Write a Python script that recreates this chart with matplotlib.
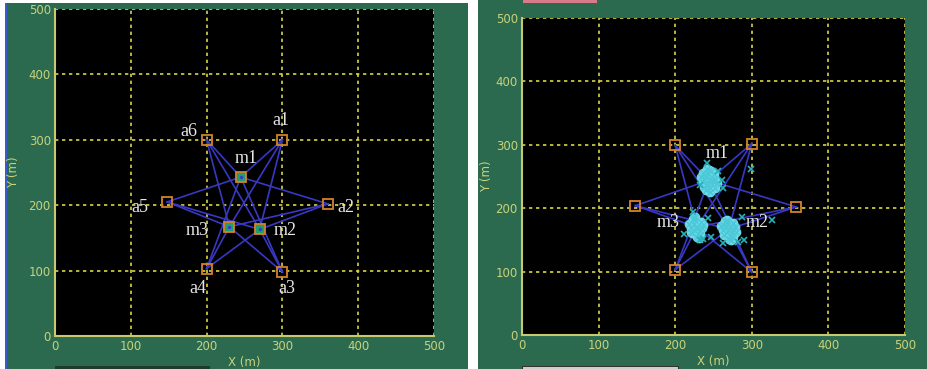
import matplotlib.pyplot as plt
from matplotlib.patches import Rectangle

# anchor and mobile node positions (m)
anchor_x = [300, 360, 300, 200, 148, 200]
anchor_y = [300, 202, 98, 103, 205, 300]
anchor_names = ['a1', 'a2', 'a3', 'a4', 'a5', 'a6']

mobile_x = [245, 270, 230]
mobile_y = [243, 163, 167]
mobile_names = ['m1', 'm2', 'm3']

# label anchor points for the left plot
anchor_lbl_x = [298, 384, 306, 189, 112, 177]
anchor_lbl_y = [330, 196, 72, 72, 196, 313]
mobile_lbl_x = [252, 303, 187]
mobile_lbl_y = [272, 162, 162]

# second run: anchors slightly moved, estimates scattered around nodes
anchor2_x = [300, 358, 300, 200, 148, 200]
anchor2_y = [302, 202, 99, 103, 204, 299]
mobile2_x = [244, 270, 228]
mobile2_y = [244, 167, 170]
mobile2_lbl_x = [255, 307, 191]
mobile2_lbl_y = [287, 177, 177]

# location estimates (dense part)
est_m1_x = [244, 240, 248, 236, 252, 242, 246, 238, 250, 234, 254, 244, 240, 248, 242,
            236, 252, 246, 238, 250, 243, 247, 239, 245, 241, 249]
est_m1_y = [244, 250, 238, 242, 246, 256, 232, 234, 254, 250, 240, 260, 228, 250, 238,
            256, 232, 246, 246, 242, 236, 258, 252, 226, 262, 244]
est_m2_x = [270, 266, 274, 262, 278, 268, 272, 264, 276, 260, 280, 270, 267, 273, 265,
            275, 269, 271, 263, 277]
est_m2_y = [167, 172, 162, 166, 170, 178, 156, 158, 176, 172, 162, 152, 182, 150, 180,
            154, 164, 170, 174, 166]
est_m3_x = [228, 224, 232, 220, 236, 226, 230, 222, 234, 218, 228, 225, 231, 223, 233,
            227, 229, 221, 235, 226]
est_m3_y = [170, 175, 165, 169, 173, 181, 159, 161, 179, 175, 155, 185, 153, 183, 157,
            170, 167, 163, 168, 186]
# outlying estimates
out_x = [241, 261, 262, 299, 256, 232, 326, 290, 287, 262, 282, 247, 232, 243, 223, 212, 236]
out_y = [271, 244, 232, 262, 258, 236, 181, 150, 186, 145, 147, 155, 150, 184, 194, 160, 152]

ticks = [0, 100, 200, 300, 400, 500]

BG = '#2b6a4f'
TICK_C = '#c9d27a'
GRID_C = '#d6d445'
LINE_C = '#3838c4'
SQ_C = '#d3822a'
EST_C = '#6ad8e6'
TXT_C = '#e6e6e6'

fig = plt.figure(figsize=(9.27, 3.69), dpi=100)
fig.patch.set_facecolor('white')


def fig_rect(x, y, w, h, **kw):
    # rectangle given in pixels from the lower-left corner
    fig.patches.append(Rectangle((x / 927, y / 369), w / 927, h / 369,
                                 transform=fig.transFigure, zorder=-10, **kw))


# panel backgrounds
fig_rect(7, 0, 461, 366, facecolor=BG, edgecolor='none')
fig_rect(5, 0, 2, 366, facecolor='#3a5cc8', edgecolor='none')
fig_rect(478, 0, 449, 369, facecolor=BG, edgecolor='none')
fig_rect(523, 366, 74, 3, facecolor='#d87a8a', edgecolor='none')
fig_rect(55, 0, 155, 3, facecolor='#1e3a2c', edgecolor='none')
fig_rect(522, 0, 156, 3, facecolor='#d8d8d8', edgecolor='#333333', lw=0.8)


def style_axes(ax, ylabelpad):
    ax.set_facecolor('black')
    ax.set_xlim(0, 500)
    ax.set_ylim(0, 500)
    ax.set_xticks(ticks)
    ax.set_yticks(ticks)
    ax.grid(True, color=GRID_C, linestyle=(0, (2, 2.2)), linewidth=1.2)
    ax.tick_params(colors=TICK_C, labelcolor=TICK_C, length=0, pad=3, labelsize=8.5)
    for side in ['top', 'right']:
        ax.spines[side].set_visible(False)
    for side in ['left', 'bottom']:
        ax.spines[side].set_color('#c8c86e')
        ax.spines[side].set_linewidth(1.5)
    ax.set_xlabel('X (m)', color=TICK_C, fontsize=8.5, labelpad=2)
    ax.set_ylabel('Y (m)', color=TICK_C, fontsize=8.5, labelpad=ylabelpad)
    ax.set_axisbelow(True)


def draw_links(ax, axs, ays, mxs, mys):
    for x0, y0 in zip(axs, ays):
        for x1, y1 in zip(mxs, mys):
            ax.plot([x0, x1], [y0, y1], color=LINE_C, lw=1.2, zorder=3)
    ax.plot(axs, ays, 's', ms=7, mfc='none', mec=SQ_C, mew=1.3, zorder=5)


def node_label(ax, name, x, y):
    ax.text(x, y, name, color=TXT_C, fontsize=13, family='Liberation Serif',
            ha='center', va='center', zorder=8)


# left: true positions
ax1 = fig.add_axes([55 / 927, 33 / 369, 379 / 927, 327 / 369])
style_axes(ax1, 6)
draw_links(ax1, anchor_x, anchor_y, mobile_x, mobile_y)
ax1.plot(mobile_x, mobile_y, 's', ms=7, mfc='#1fa06a', mec=SQ_C, mew=1.3, zorder=6)
ax1.plot(mobile_x, mobile_y, '.', ms=3, color='#3a3ad0', zorder=7)
for name, x, y in zip(anchor_names, anchor_lbl_x, anchor_lbl_y):
    node_label(ax1, name, x, y)
for name, x, y in zip(mobile_names, mobile_lbl_x, mobile_lbl_y):
    node_label(ax1, name, x, y)

# right: position estimates
ax2 = fig.add_axes([522 / 927, 34 / 369, 383 / 927, 317 / 369])
style_axes(ax2, 2)
draw_links(ax2, anchor2_x, anchor2_y, mobile2_x, mobile2_y)
for ex, ey in [(est_m1_x, est_m1_y), (est_m2_x, est_m2_y), (est_m3_x, est_m3_y)]:
    ax2.plot(ex, ey, 'o', ms=6, color=EST_C, mec=EST_C, zorder=6)
    ax2.plot(ex, ey, 'x', ms=4, color='#4cc8d8', mew=1, zorder=6)
ax2.plot(out_x, out_y, 'x', ms=4, color='#2ab0b8', mew=1.2, zorder=6)
for name, x, y in zip(mobile_names, mobile2_lbl_x, mobile2_lbl_y):
    node_label(ax2, name, x, y)

fig.savefig('out.png', dpi=100, facecolor=fig.get_facecolor())
